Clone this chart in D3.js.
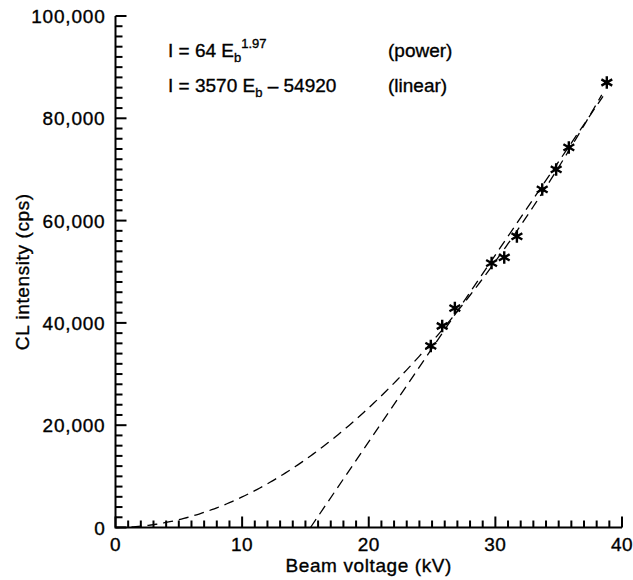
<!DOCTYPE html>
<html>
<head>
<meta charset="utf-8">
<script src="https://cdn.jsdelivr.net/npm/d3@7"></script>
<style>
  body { margin: 0; background: #fff; }
  text { font-family: "Liberation Sans", Arial, Helvetica, sans-serif; fill: #000; stroke: #000; stroke-width: 0.35px; }
</style>
</head>
<body>
<svg id="chart" width="633" height="580"></svg>
<script>
// measured points (kV, cps)
const beamVoltage = [24.9, 25.8, 26.8, 29.7, 30.7, 31.7, 33.7, 34.8, 35.8, 38.8];
const clIntensity = [35500, 39400, 42900, 51700, 52800, 56900, 66100, 70000, 74300, 87000];

// power fit as printed on the chart
const powerFit = { a: 64, b: 1.97, xMax: 38.5 };
// linear fit line as drawn (end points)
const linearLineX = [15.4, 38.5];
const linearLineY = [0, 84300];

const xTicks = [0, 10, 20, 30, 40];
const yTicks = [0, 20000, 40000, 60000, 80000, 100000];
const xMinor = d3.range(0, 41, 1);
const yMinor = d3.range(0, 100001, 2000);

const svg = d3.select("#chart");
const margin = { left: 115.5, right: 11, top: 16, bottom: 52.5 };
const W = 633, H = 580;

const x = d3.scaleLinear().domain([0, 40]).range([margin.left, W - margin.right]);
const y = d3.scaleLinear().domain([0, 100000]).range([H - margin.bottom, margin.top]);

const g = svg.append("g");

// inward ticks
const bx = x(0), by = y(0);
g.selectAll(".xtk").data(xMinor).enter().append("rect")
  .attr("x", d => x(d) - 1)
  .attr("y", d => by - (d % 10 === 0 ? 11 : 7))
  .attr("width", 2)
  .attr("height", d => (d % 10 === 0 ? 11 : 7))
  .attr("fill", "#000");
g.selectAll(".ytk").data(yMinor).enter().append("rect")
  .attr("x", bx)
  .attr("y", d => y(d) - 1)
  .attr("width", d => (d % 20000 === 0 ? 11 : 7))
  .attr("height", 2)
  .attr("fill", "#000");

// axis lines
g.append("path").attr("fill", "none").attr("stroke", "#000").attr("stroke-width", 2)
  .attr("d", `M${bx},${y(100000)}V${by}H${x(40)}`);

// tick labels
const fmt = d3.format(",");
g.selectAll(".xt").data(xTicks).enter().append("text")
  .attr("x", d => x(d)).attr("y", by + 23)
  .attr("text-anchor", "middle")
  .style("font-size", "19px")
  .style("letter-spacing", "0.5px")
  .text(d => d);
g.selectAll(".yt").data(yTicks).enter().append("text")
  .attr("x", bx - 10).attr("y", d => y(d) + 7)
  .attr("text-anchor", "end")
  .style("font-size", "19px")
  .style("letter-spacing", "0.8px")
  .text(d => fmt(d));

// axis titles
g.append("text")
  .attr("x", (x(0) + x(40)) / 2).attr("y", 572)
  .attr("text-anchor", "middle")
  .style("font-size", "19px")
  .style("letter-spacing", "0.6px")
  .text("Beam voltage (kV)");
g.append("text")
  .attr("transform", `translate(29,${(y(0) + y(100000)) / 2}) rotate(-90)`)
  .attr("text-anchor", "middle")
  .style("font-size", "19px")
  .style("letter-spacing", "0.6px")
  .text("CL intensity (cps)");

// fit curves
const powerPts = d3.range(0, powerFit.xMax + 0.01, 0.2).map(e => [e, powerFit.a * Math.pow(e, powerFit.b)]);
const linearPts = linearLineX.map((e, i) => [e, linearLineY[i]]);

const line = d3.line().x(d => x(d[0])).y(d => y(d[1]));
g.append("path").datum(powerPts)
  .attr("d", line).attr("fill", "none")
  .attr("stroke", "#000").attr("stroke-width", 1.3)
  .attr("stroke-dasharray", "10,6");
g.append("path").datum(linearPts)
  .attr("d", line).attr("fill", "none")
  .attr("stroke", "#000").attr("stroke-width", 1.3)
  .attr("stroke-dasharray", "10,6");

// data markers
const star = d3.symbol().type(d3.symbolAsterisk).size(110);
g.selectAll(".pt").data(beamVoltage).enter().append("path")
  .attr("transform", (d, i) => `translate(${x(d)},${y(clIntensity[i])})`)
  .attr("d", star)
  .attr("fill", "none").attr("stroke", "#000").attr("stroke-width", 2.4);

// equations
const eq1 = g.append("text").attr("x", 168).attr("y", 57).style("font-size", "19px");
eq1.append("tspan").text("I = 64 E");
eq1.append("tspan").attr("dy", 5).style("font-size", "13px").text("b");
eq1.append("tspan").attr("dy", -14).style("font-size", "13px").text("1.97");
g.append("text").attr("x", 388).attr("y", 57).style("font-size", "19px").text("(power)");

const eq2 = g.append("text").attr("x", 168).attr("y", 92).style("font-size", "19px");
eq2.append("tspan").text("I = 3570 E");
eq2.append("tspan").attr("dy", 5).style("font-size", "13px").text("b");
eq2.append("tspan").attr("dy", -5).text(" \u2013 54920");
g.append("text").attr("x", 388).attr("y", 92).style("font-size", "19px").text("(linear)");
</script>
</body>
</html>
